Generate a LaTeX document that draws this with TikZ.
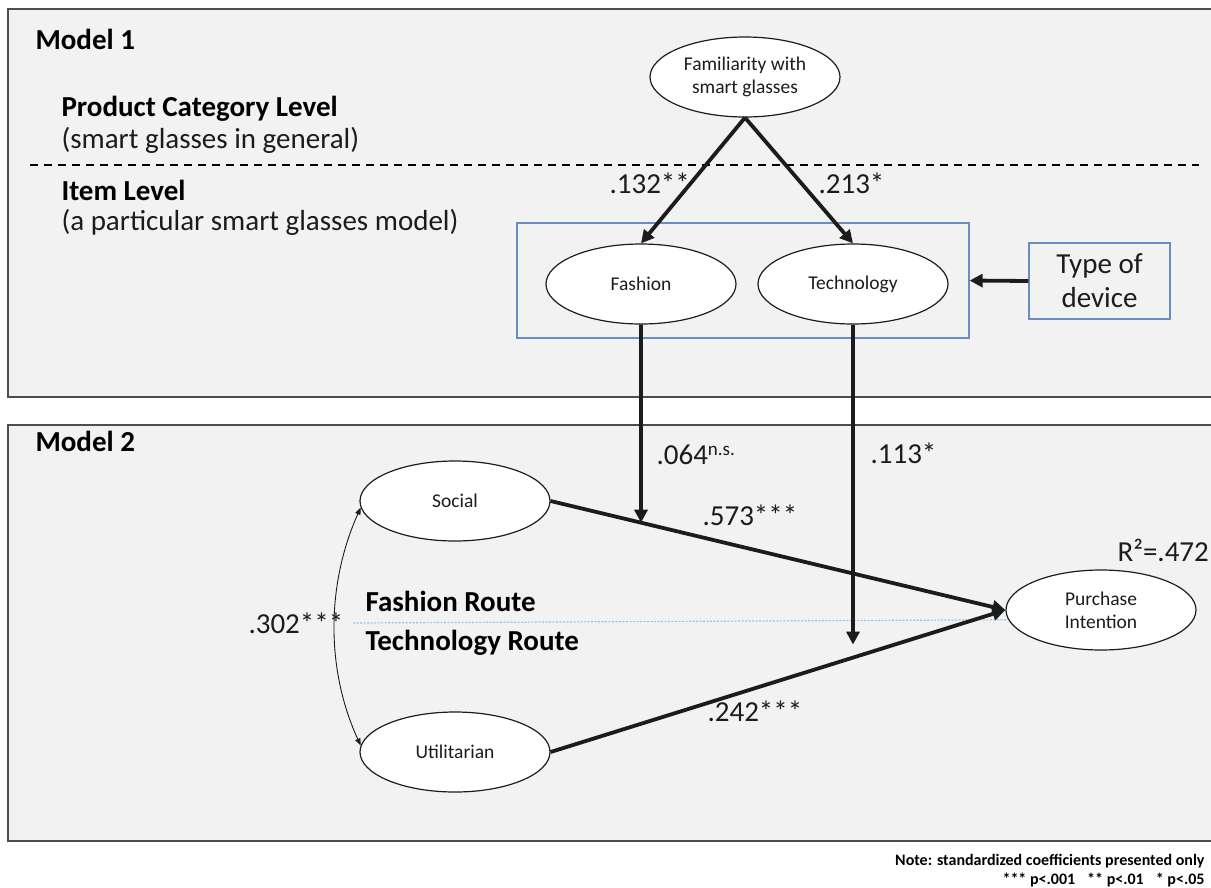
\documentclass[tikz,border=0pt]{standalone}
\usepackage{fontspec}
\setmainfont{Carlito}
\usetikzlibrary{arrows.meta,shapes.geometric,intersections,calc}

\definecolor{panelfill}{HTML}{F2F2F2}
\definecolor{panelline}{HTML}{4D4D4D}
\definecolor{groupblue}{HTML}{6A8CBF}
\definecolor{routeblue}{HTML}{9DC3E6}
\definecolor{ink}{HTML}{1C1C1C}

\begin{document}
\begin{tikzpicture}[x=1pt,y=-1pt,
  panel/.style={draw=panelline,line width=1.8pt,fill=panelfill},
  latent/.style={ellipse,draw=ink,line width=1.2pt,fill=white,inner sep=0pt,
    minimum width=190pt,minimum height=80pt,align=center,
    font=\fontsize{19.5}{23}\selectfont,text=ink},
  heading/.style={anchor=base west,font=\fontsize{29}{34}\selectfont\bfseries,text=black},
  plain/.style={anchor=base west,font=\fontsize{29}{34}\selectfont,text=ink},
  notetext/.style={anchor=base east,font=\fontsize{16}{18}\selectfont\bfseries,text=black},
  effect/.style={draw=ink,line width=3.8pt,-{Triangle[length=13pt,width=13pt]}},
  corr/.style={draw=ink,line width=0.9pt,
    {Triangle[length=7pt,width=5.5pt]}-{Triangle[length=7pt,width=5.5pt]}},
  groupbox/.style={draw=groupblue,line width=1.3pt,inner sep=0pt},
]
\useasboundingbox (0,0) rectangle (1211,887);
\clip (0,0) rectangle (1211,887);

% the two model panels
\path[panel] (8,9) rectangle (1240,397);
\path[panel] (8,425) rectangle (1240,841);

% level separator
\draw[black,line width=1.5pt,dash pattern=on 8pt off 6pt] (30,165) -- (1199,165);

% ---------- Model 1 ----------
\node[heading] (m1) at (32,49) {Model 1};
\node[heading] (pcl) at (58,116) {Product Category Level};
\node[plain] (pcls) at (58,148) {(smart glasses in general)};
\node[heading] (il) at (58,200) {Item Level};
\node[plain] (ils) at (58,230) {(a particular smart glasses model)};

\node[latent] (fam) at (745,77) {Familiarity with\\smart glasses};
\node[latent] (fash) at (641,284) {Fashion};
\node[latent] (tech) at (853,284) {Technology};
\node[groupbox,minimum width=452pt,minimum height=115pt] (grp) at (743,280.5) {};
\node[groupbox,minimum width=141pt,minimum height=76pt,align=center,
  font=\fontsize{29}{34}\selectfont,text=ink] (dev) at (1099.5,281) {Type of\\device};

\draw[effect] (fam.south) -- (fash.north);
\draw[effect] (fam.south) -- (tech.north);
\draw[effect] (dev.west) -- (grp.east);

\node[plain] (c132) at (606,193) {.132**};
\node[plain] (c213) at (815,193) {.213*};

% ---------- Model 2 ----------
\node[heading] (m2) at (32,451) {Model 2};

\node[latent] (soc) at (455,501) {Social};
\node[latent] (uti) at (455,752) {Utilitarian};
\node[latent] (pi) at (1101,610) {Purchase\\Intention};

% route separator
\coordinate (routestart) at (353,623);
\draw[routeblue,line width=1.2pt,dash pattern=on 2pt off 1.5pt] (routestart) -- (pi.186);
\node[heading] (fr) at (362,611) {Fashion Route};
\node[heading] (tr) at (362,650) {Technology Route};

\draw[effect,name path=socpi] (soc.east) -- (pi.west);
\draw[effect] (uti.east) -- (pi.west);
\draw[corr] (soc.184) .. controls (326,585) and (326,670) .. (uti.176);

% moderation by device type
\path[name path=fashdown] (fash.south) -- ++(0,400);
\path[name intersections={of=socpi and fashdown,by=fashend}];
\draw[effect] (fash.south) -- (fashend);
\coordinate (techend) at ($(tech.south)+(0,320)$);
\draw[effect] (tech.south) -- (techend);

\node[plain] (c064) at (653,464) {.064\raisebox{9pt}{\fontsize{19}{19}\selectfont n.s.}};
\node[plain] (c113) at (867,463) {.113*};
\node[plain] (c573) at (699,525) {.573***};
\node[plain] (c242) at (704,721) {.242***};
\node[plain] (c302) at (245,633) {.302***};
\node[plain] (r2) at (1114,561) {R²=.472};

% footnote
\node[notetext] (note1) at (1208,865) {Note: standardized coefficients presented only};
\node[notetext] (note2) at (1208,884) {*** p<.001\hspace{12pt}** p<.01\hspace{12pt}* p<.05};
\end{tikzpicture}
\end{document}
